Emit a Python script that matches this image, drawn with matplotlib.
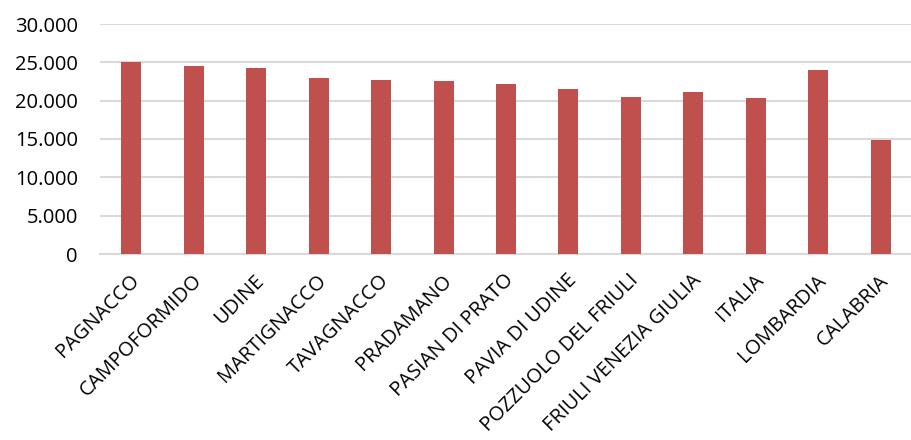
import matplotlib
matplotlib.use("Agg")
import matplotlib.pyplot as plt
import matplotlib.transforms as mtransforms
from matplotlib.ticker import FuncFormatter

categories = ["PAGNACCO", "CAMPOFORMIDO", "UDINE", "MARTIGNACCO", "TAVAGNACCO",
              "PRADAMANO", "PASIAN DI PRATO", "PAVIA DI UDINE", "POZZUOLO DEL FRIULI",
              "FRIULI VENEZIA GIULIA", "ITALIA", "LOMBARDIA", "CALABRIA"]
values = [25040, 24480, 24220, 23000, 22650, 22610, 22130, 21520, 20430,
          21090, 20350, 24040, 14830]
y_ticks = [0, 5000, 10000, 15000, 20000, 25000, 30000]

plt.rcParams['font.family'] = ['Open Sans', 'DejaVu Sans']

fig = plt.figure(figsize=(9.12, 4.4), dpi=100)
ax = fig.add_axes([100 / 912, 1 - 254 / 440, 812 / 912, 230 / 440])

x = range(len(categories))
ax.bar(x, values, width=0.32, color="#c0504d", zorder=3)

ax.set_xlim(-0.5, len(categories) - 0.5)
ax.set_ylim(0, 30000)
ax.set_yticks(y_ticks)
ax.yaxis.set_major_formatter(FuncFormatter(lambda v, p: f"{int(v):,}".replace(",", ".")))
ax.grid(axis="y", color="#d9d9d9", linewidth=1.5, zorder=0)

for s in ["top", "right", "left"]:
    ax.spines[s].set_visible(False)
ax.spines["bottom"].set_color("#d9d9d9")
ax.spines["bottom"].set_linewidth(1.5)

ax.tick_params(axis="both", length=0, colors="black")
ax.tick_params(axis="y", pad=16, labelsize=14.5)
ax.tick_params(axis="x", pad=17, labelsize=14.5)
ax.set_xticks(list(x))
ax.set_xticklabels(categories, rotation=45, ha="right", rotation_mode="anchor", va="center")

# nudge the rotated labels slightly right, like the original
shift = mtransforms.ScaledTranslation(5 / 100, 0, fig.dpi_scale_trans)
for lbl in ax.get_xticklabels():
    lbl.set_transform(lbl.get_transform() + shift)

fig.savefig("out.png", dpi=100)
